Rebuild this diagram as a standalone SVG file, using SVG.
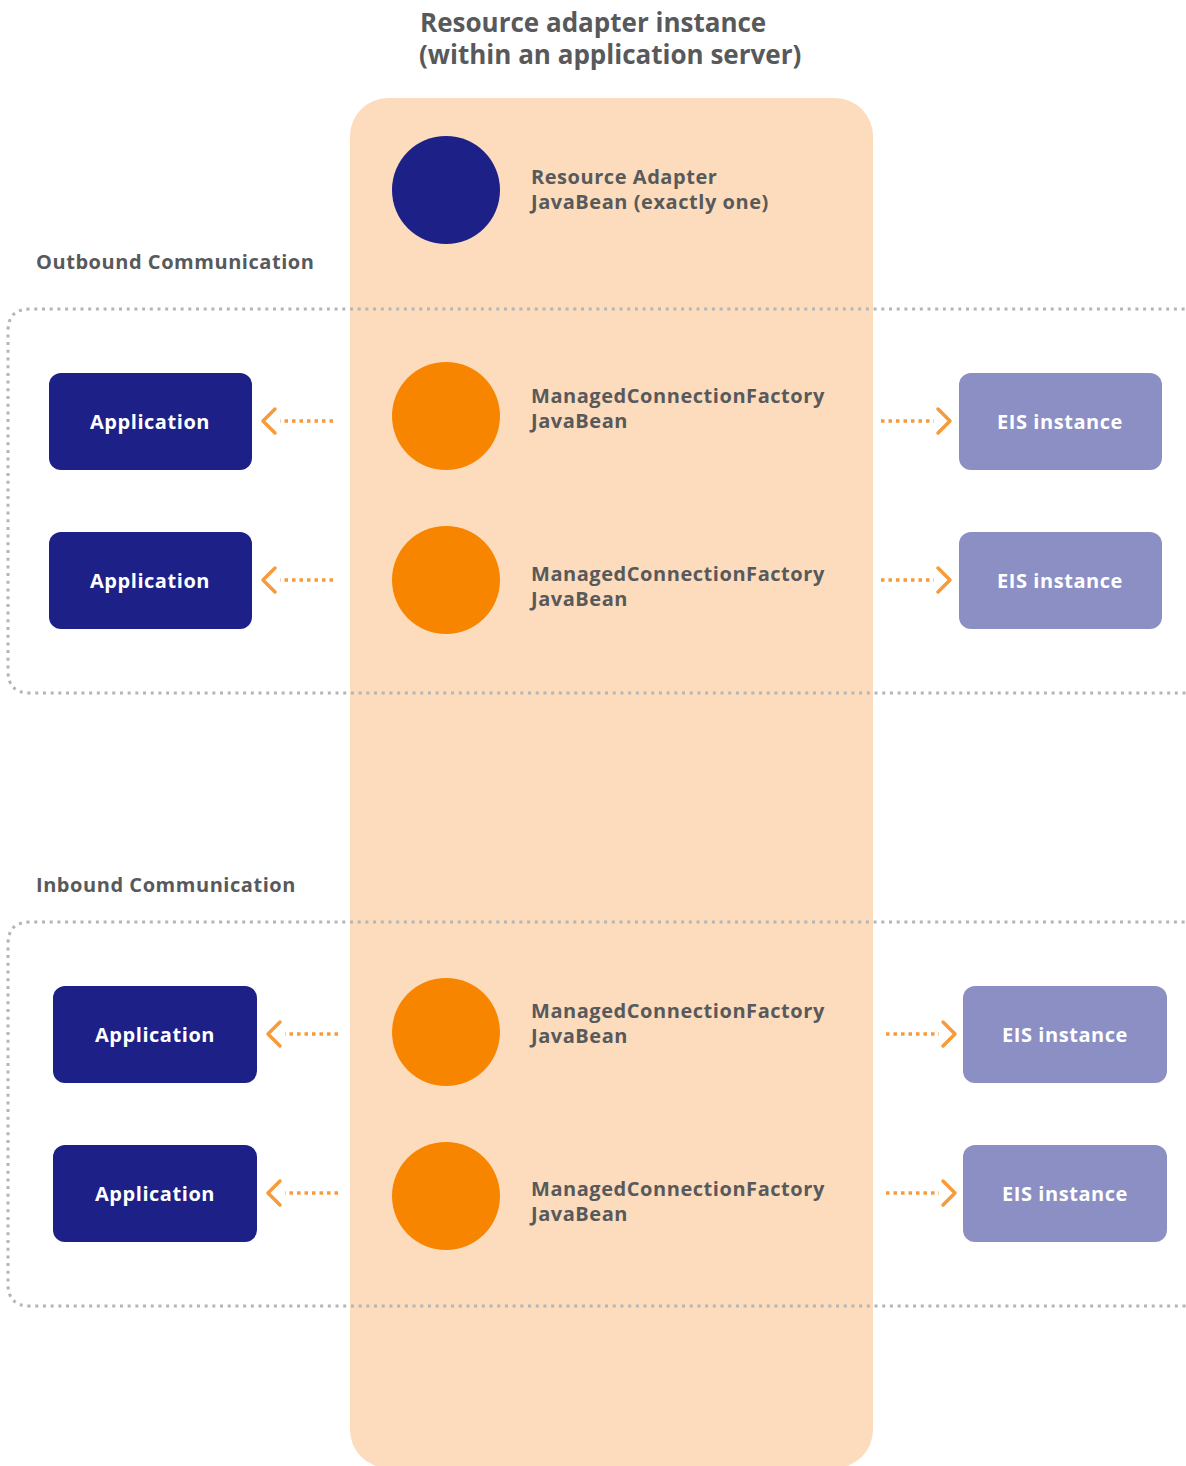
<svg xmlns="http://www.w3.org/2000/svg" width="1186" height="1466" viewBox="0 0 1186 1466">
  <style>
    text { font-family: "Open Sans", "Noto Sans", "DejaVu Sans", sans-serif; font-weight: 700; }
    .title { font-size: 26px; fill: #58595b; }
    .label { font-size: 20px; fill: #58595b; letter-spacing: 0.55px; }
    .section { font-size: 20px; fill: #58595b; letter-spacing: 0.55px; }
    .boxtext { font-size: 20px; fill: #ffffff; text-anchor: middle; dominant-baseline: central; letter-spacing: 0.55px; }
    .app { fill: #1c2087; }
    .eis { fill: #8c8fc4; }
    .bean { fill: #f88500; }
    .region { fill: none; stroke: #b4b5b8; stroke-width: 3; stroke-dasharray: 3 4.7; }
    .conn { fill: none; stroke: #f79a3a; stroke-width: 3.5; }
    .dots { stroke-dasharray: 3.5 4; }
    .chev { stroke-linecap: round; stroke-linejoin: round; }
  </style>

  <!-- application server column -->
  <rect id="server" x="350" y="98" width="523" height="1370" rx="38" fill="#fcdcbc"/>

  <!-- title -->
  <text class="title" x="420" y="32">Resource adapter instance</text>
  <text class="title" x="419" y="64">(within an application server)</text>

  <!-- communication regions -->
  <text class="section" x="36" y="269">Outbound Communication</text>
  <path id="outbound" class="region" d="M1200 309 H30 Q8 309 8 331 V671 Q8 693 30 693 H1200"/>
  <text class="section" x="36" y="892">Inbound Communication</text>
  <path id="inbound" class="region" d="M1200 922 H30 Q8 922 8 944 V1284 Q8 1306 30 1306 H1200"/>

  <!-- resource adapter bean -->
  <g id="resource-adapter">
    <circle cx="446" cy="190" r="54" fill="#1c2087"/>
    <text class="label" x="531" y="184">Resource Adapter</text>
    <text class="label" x="531" y="209">JavaBean (exactly one)</text>
  </g>

  <!-- outbound row 1 -->
  <g id="mcf-out-1">
    <circle class="bean" cx="446" cy="416" r="54"/>
    <text class="label" x="531" y="403">ManagedConnectionFactory</text>
    <text class="label" x="531" y="428">JavaBean</text>
  </g>
  <g id="app-out-1">
    <rect class="app" x="49" y="373" width="203" height="97" rx="12"/>
    <text class="boxtext" x="150" y="421">Application</text>
  </g>
  <g id="eis-out-1">
    <rect class="eis" x="959" y="373" width="203" height="97" rx="12"/>
    <text class="boxtext" x="1060" y="421">EIS instance</text>
  </g>

  <!-- outbound row 2 -->
  <g id="mcf-out-2">
    <circle class="bean" cx="446" cy="580" r="54"/>
    <text class="label" x="531" y="581">ManagedConnectionFactory</text>
    <text class="label" x="531" y="606">JavaBean</text>
  </g>
  <g id="app-out-2">
    <rect class="app" x="49" y="532" width="203" height="97" rx="12"/>
    <text class="boxtext" x="150" y="580">Application</text>
  </g>
  <g id="eis-out-2">
    <rect class="eis" x="959" y="532" width="203" height="97" rx="12"/>
    <text class="boxtext" x="1060" y="580">EIS instance</text>
  </g>

  <!-- inbound row 1 -->
  <g id="mcf-in-1">
    <circle class="bean" cx="446" cy="1032" r="54"/>
    <text class="label" x="531" y="1018">ManagedConnectionFactory</text>
    <text class="label" x="531" y="1043">JavaBean</text>
  </g>
  <g id="app-in-1">
    <rect class="app" x="53" y="986" width="204" height="97" rx="12"/>
    <text class="boxtext" x="155" y="1034">Application</text>
  </g>
  <g id="eis-in-1">
    <rect class="eis" x="963" y="986" width="204" height="97" rx="12"/>
    <text class="boxtext" x="1065" y="1034">EIS instance</text>
  </g>

  <!-- inbound row 2 -->
  <g id="mcf-in-2">
    <circle class="bean" cx="446" cy="1196" r="54"/>
    <text class="label" x="531" y="1196">ManagedConnectionFactory</text>
    <text class="label" x="531" y="1221">JavaBean</text>
  </g>
  <g id="app-in-2">
    <rect class="app" x="53" y="1145" width="204" height="97" rx="12"/>
    <text class="boxtext" x="155" y="1193">Application</text>
  </g>
  <g id="eis-in-2">
    <rect class="eis" x="963" y="1145" width="204" height="97" rx="12"/>
    <text class="boxtext" x="1065" y="1193">EIS instance</text>
  </g>

  <!-- connectors: dotted lines with open chevrons -->
  <g id="connectors">
    <g>
      <path class="conn dots" d="M333 421 H280"/>
      <path class="conn chev" d="M275 409 L263 421 L275 433"/>
      <path class="conn dots" d="M881 421 H934"/>
      <path class="conn chev" d="M938 409 L950 421 L938 433"/>
    </g>
    <g>
      <path class="conn dots" d="M333 580 H280"/>
      <path class="conn chev" d="M275 568 L263 580 L275 592"/>
      <path class="conn dots" d="M881 580 H934"/>
      <path class="conn chev" d="M938 568 L950 580 L938 592"/>
    </g>
    <g>
      <path class="conn dots" d="M338 1034 H285"/>
      <path class="conn chev" d="M280 1022 L268 1034 L280 1046"/>
      <path class="conn dots" d="M886 1034 H939"/>
      <path class="conn chev" d="M943 1022 L955 1034 L943 1046"/>
    </g>
    <g>
      <path class="conn dots" d="M338 1193 H285"/>
      <path class="conn chev" d="M280 1181 L268 1193 L280 1205"/>
      <path class="conn dots" d="M886 1193 H939"/>
      <path class="conn chev" d="M943 1181 L955 1193 L943 1205"/>
    </g>
  </g>
</svg>
